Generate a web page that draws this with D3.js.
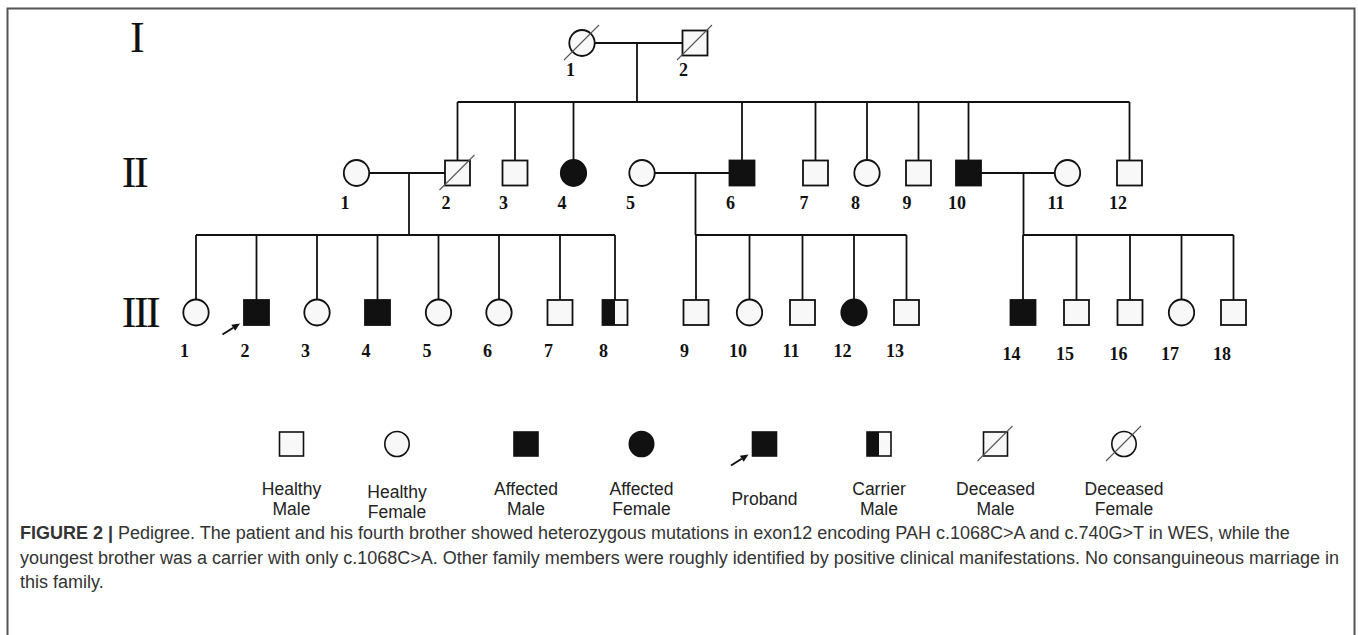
<!DOCTYPE html>
<html><head><meta charset="utf-8">
<script src="https://cdn.jsdelivr.net/npm/d3@7"></script>
<style>
html,body{margin:0;padding:0;background:#fff;}
svg{display:block;}
</style></head><body>
<svg id="chart" width="1358" height="635"></svg>
<script>
// ---------------- data ----------------
const generations = ["I", "II", "III"];

// individuals: number, sex, status, horizontal slot
const genI = [
  {n: 1, sex: "F", status: "deceased", pos: 582},
  {n: 2, sex: "M", status: "deceased", pos: 695}
];
const genII = [
  {n: 1, sex: "F", status: "healthy", pos: 356.5},
  {n: 2, sex: "M", status: "deceased", pos: 457.5},
  {n: 3, sex: "M", status: "healthy", pos: 515},
  {n: 4, sex: "F", status: "affected", pos: 573.5},
  {n: 5, sex: "F", status: "healthy", pos: 642},
  {n: 6, sex: "M", status: "affected", pos: 742},
  {n: 7, sex: "M", status: "healthy", pos: 815.5},
  {n: 8, sex: "F", status: "healthy", pos: 867},
  {n: 9, sex: "M", status: "healthy", pos: 918.5},
  {n: 10, sex: "M", status: "affected", pos: 968.5},
  {n: 11, sex: "F", status: "healthy", pos: 1067.5},
  {n: 12, sex: "M", status: "healthy", pos: 1129.5}
];
const genIII = [
  {n: 1, sex: "F", status: "healthy", pos: 196},
  {n: 2, sex: "M", status: "proband", pos: 256.5},
  {n: 3, sex: "F", status: "healthy", pos: 317},
  {n: 4, sex: "M", status: "affected", pos: 377.5},
  {n: 5, sex: "F", status: "healthy", pos: 438.5},
  {n: 6, sex: "F", status: "healthy", pos: 499},
  {n: 7, sex: "M", status: "healthy", pos: 560},
  {n: 8, sex: "M", status: "carrier", pos: 615},
  {n: 9, sex: "M", status: "healthy", pos: 696},
  {n: 10, sex: "F", status: "healthy", pos: 749.5},
  {n: 11, sex: "M", status: "healthy", pos: 802.5},
  {n: 12, sex: "F", status: "affected", pos: 854},
  {n: 13, sex: "M", status: "healthy", pos: 906.5},
  {n: 14, sex: "M", status: "affected", pos: 1023},
  {n: 15, sex: "M", status: "healthy", pos: 1076.5},
  {n: 16, sex: "M", status: "healthy", pos: 1130},
  {n: 17, sex: "F", status: "healthy", pos: 1181.5},
  {n: 18, sex: "M", status: "healthy", pos: 1233.5}
];

// couples: generation, partners, descent-line slot, children (numbers in next generation)
const couples = [
  {gen: "I", a: 1, b: 2, drop: 637, children: [2, 3, 4, 6, 7, 8, 9, 10, 12]},
  {gen: "II", a: 1, b: 2, drop: 409, children: [1, 2, 3, 4, 5, 6, 7, 8]},
  {gen: "II", a: 5, b: 6, drop: 695.5, children: [9, 10, 11, 12, 13]},
  {gen: "II", a: 10, b: 11, drop: 1023.5, children: [14, 15, 16, 17, 18]}
];

// legend
const legendTypes = ["healthyMale", "healthyFemale", "affectedMale", "affectedFemale",
                     "proband", "carrierMale", "deceasedMale", "deceasedFemale"];
const legendLabels = [["Healthy", "Male"], ["Healthy", "Female"], ["Affected", "Male"],
                      ["Affected", "Female"], ["Proband"], ["Carrier", "Male"],
                      ["Deceased", "Male"], ["Deceased", "Female"]];
const legendSlots = [291.5, 397, 526, 641.5, 764.5, 879, 995.5, 1124];

// caption
const captionBold = "FIGURE 2 |";
const captionLines = [
  " Pedigree. The patient and his fourth brother showed heterozygous mutations in exon12 encoding PAH c.1068C>A and c.740G>T in WES, while the",
  "youngest brother was a carrier with only c.1068C>A. Other family members were roughly identified by positive clinical manifestations. No consanguineous marriage in",
  "this family."
];

// ---------------- layout ----------------
const W = 1358, H = 635;
const svg = d3.select("#chart");
const x = d3.scaleLinear().domain([0, W]).range([0, W]);
const rowY = d3.scaleOrdinal().domain(generations).range([43, 173, 312.5]);
const labelY = d3.scaleOrdinal().domain(generations).range([76, 209, 357]);
const sibY = d3.scaleOrdinal().domain(["I", "II"]).range([102, 235]);
const romanX = d3.scaleOrdinal().domain(generations).range([136, 134, 140]);
const romanY = d3.scaleOrdinal().domain(generations).range([52, 187, 327]);
const people = {I: genI, II: genII, III: genIII};
const nextGen = {I: "II", II: "III"};
const find = (g, n) => people[g].find(p => p.n === n);

const SQ = 25, RX = 12.7, RY = 13;
const INK = "#111", FILL = "#f8f8f8";

// frame
svg.append("path")
  .attr("d", `M7.5,${H} L7.5,8.5 L1354.5,8.5 L1354.5,${H}`)
  .attr("fill", "none").attr("stroke", "#555").attr("stroke-width", 2);

const lines = svg.append("g").attr("stroke", INK).attr("stroke-width", 1.8).attr("fill", "none");

couples.forEach(c => {
  const y0 = rowY(c.gen);
  const pa = find(c.gen, c.a), pb = find(c.gen, c.b);
  lines.append("line").attr("x1", x(pa.pos)).attr("x2", x(pb.pos)).attr("y1", y0).attr("y2", y0);
  const sy = sibY(c.gen);
  lines.append("line").attr("x1", x(c.drop)).attr("x2", x(c.drop)).attr("y1", y0).attr("y2", sy);
  const ng = nextGen[c.gen];
  const kids = c.children.map(n => find(ng, n));
  const xs = kids.map(k => k.pos).concat([c.drop]);
  lines.append("line").attr("x1", x(d3.min(xs))).attr("x2", x(d3.max(xs))).attr("y1", sy).attr("y2", sy);
  kids.forEach(k => {
    lines.append("line").attr("x1", x(k.pos)).attr("x2", x(k.pos)).attr("y1", sy).attr("y2", rowY(ng));
  });
});

function drawSymbol(g, cx, cy, sex, status, size, sw) {
  const filled = status === "affected" || status === "proband";
  if (sex === "M") {
    g.append("rect").attr("x", cx - size / 2).attr("y", cy - size / 2)
      .attr("width", size).attr("height", size)
      .attr("fill", filled ? INK : FILL).attr("stroke", INK).attr("stroke-width", sw);
    if (status === "carrier") {
      g.append("rect").attr("x", cx - size / 2).attr("y", cy - size / 2)
        .attr("width", size / 2).attr("height", size).attr("fill", INK);
    }
  } else {
    g.append("ellipse").attr("cx", cx).attr("cy", cy)
      .attr("rx", size / 2 * RX / 12.5).attr("ry", size / 2 * RY / 12.5)
      .attr("fill", filled ? INK : FILL).attr("stroke", INK).attr("stroke-width", sw);
  }
  if (status === "deceased") {
    g.append("line").attr("x1", cx - 18).attr("y1", cy + 17).attr("x2", cx + 17).attr("y2", cy - 18)
      .attr("stroke", "#555").attr("stroke-width", 1.1);
  }
  if (status === "proband") {
    const tip = [cx - size / 2 - 4, cy + size / 2 - 1.5];
    const tail = [tip[0] - 17.5, tip[1] + 11];
    const dx = tip[0] - tail[0], dy = tip[1] - tail[1];
    const L = Math.hypot(dx, dy), ux = dx / L, uy = dy / L;
    const hl = 8, hw = 3.6;
    const bx = tip[0] - ux * hl, by = tip[1] - uy * hl;
    g.append("line").attr("x1", tail[0]).attr("y1", tail[1]).attr("x2", bx).attr("y2", by)
      .attr("stroke", INK).attr("stroke-width", 2);
    g.append("path")
      .attr("d", `M${tip[0]},${tip[1]} L${bx - uy * hw},${by + ux * hw} L${bx + uy * hw},${by - ux * hw} Z`)
      .attr("fill", INK);
  }
}

const shapes = svg.append("g");
generations.forEach(gname => {
  people[gname].forEach(p => {
    drawSymbol(shapes, x(p.pos), rowY(gname), p.sex, p.status, SQ, 1.8);
  });
});

// member numbers
const nums = svg.append("g")
  .attr("font-family", "'Liberation Serif', 'Times New Roman', serif")
  .attr("font-weight", "bold").attr("font-size", 18).attr("fill", "#111")
  .attr("text-anchor", "middle");
generations.forEach(gname => {
  people[gname].forEach(p => {
    nums.append("text").attr("x", x(p.pos) - 11.5)
      .attr("y", labelY(gname) + (gname === "III" && p.n >= 14 ? 2.5 : 0))
      .text(p.n);
  });
});

// generation numerals
svg.append("g")
  .attr("font-family", "'Liberation Serif', 'Times New Roman', serif")
  .attr("font-size", 44).attr("fill", "#111").attr("text-anchor", "middle")
  .attr("letter-spacing", -2.5)
  .selectAll("text").data(generations).join("text")
  .attr("x", d => romanX(d)).attr("y", d => romanY(d)).text(d => d);

// legend
const lg = svg.append("g");
const legY = 444;
legendTypes.forEach((t, i) => {
  const cx = x(legendSlots[i]);
  const sex = /Female/.test(t) ? "F" : "M";
  const status = t.startsWith("healthy") ? "healthy" : t.startsWith("affected") ? "affected"
    : t === "proband" ? "proband" : t.startsWith("carrier") ? "carrier" : "deceased";
  drawSymbol(lg, cx, legY, sex, status, 24, 1.6);
  const lab = legendLabels[i];
  const base = lab.length === 1 ? 505 : (t === "healthyFemale" ? 498 : 495);
  lab.forEach((s, j) => {
    lg.append("text").attr("x", cx).attr("y", base + j * 20)
      .attr("text-anchor", "middle")
      .attr("font-family", "'Liberation Sans', Arial, sans-serif")
      .attr("font-size", 17.5).attr("fill", "#222").text(s);
  });
});

// caption
const cap = svg.append("g")
  .attr("font-family", "'Liberation Sans', Arial, sans-serif")
  .attr("font-size", 18).attr("fill", "#333");
const capBase = [539, 563.5, 588];
captionLines.forEach((line, i) => {
  const t = cap.append("text").attr("x", 20).attr("y", capBase[i]).attr("xml:space", "preserve");
  if (i === 0) {
    t.append("tspan").attr("font-weight", "bold").text(captionBold);
  }
  t.append("tspan").text(line);
});
</script>
</body></html>
